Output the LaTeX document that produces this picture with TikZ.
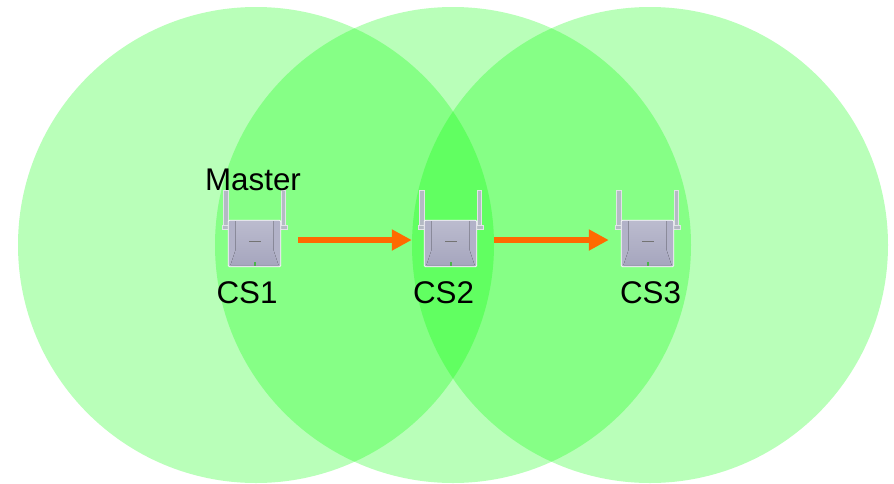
\documentclass[tikz,border=0pt]{standalone}
\usepackage{fontspec}
\setmainfont{Liberation Sans}
\usetikzlibrary{arrows.meta,positioning,calc}

\begin{document}
\begin{tikzpicture}[
  x=0.75pt, y=-0.75pt,
  zone/.style={circle, fill=green!100!black, fill opacity=0.275, minimum size=357pt, inner sep=0pt},
  base/.style={rectangle, rounded corners=1pt, draw=white, line width=0.6pt, fill=basegrey, minimum width=39.5pt, minimum height=35pt, inner sep=0pt},
  panel/.style={top color=basetop, bottom color=baselow},
  aerial/.style={draw=white!60!aerialgrey, line width=0.3pt, fill=aerialgrey},
  label/.style={font=\fontsize{23.5}{27}\selectfont, text=black, inner sep=0pt},
  arrow/.style={-{Triangle[length=15pt,width=15pt]}, line width=5pt, draw=orange1}
]
\definecolor{orange1}{HTML}{FF6A00}
\definecolor{basegrey}{HTML}{B2B2C8}
\definecolor{basetop}{HTML}{BBBBCE}
\definecolor{baselow}{HTML}{A6A6BE}
\definecolor{aerialgrey}{HTML}{B4BAC4}
\useasboundingbox[fill=white] (0,0) rectangle (894,483);

% coverage areas
\node[zone] (zone1) at (256,245) {};
\node[zone] (zone2) at (453,245) {};
\node[zone] (zone3) at (650,245) {};

% base stations
\foreach \name/\px in {cs1/254.5, cs2/450.5, cs3/647.5} {
  \filldraw[aerial] (\px-31,190) rectangle (\px-26.5,226);
  \filldraw[aerial] (\px+26.5,190) rectangle (\px+31,226);
  \filldraw[aerial] (\px-32.5,225) rectangle (\px-26,229);
  \filldraw[aerial] (\px+26,225) rectangle (\px+32.5,229);
  \node[base] (\name) at (\px,243.5) {};
  \fill[panel] (\px-19,221) -- (\px+19,221) -- (\px+19,250) -- (\px+24,265) -- (\px-24,265) -- (\px-19,250) -- cycle;
  \fill[black!55] (\px-6,240.5) rectangle (\px+6,241.5);
  \fill[green!40!gray] (\px-1,262) rectangle (\px+1,266);
}

% labels
\node[label] (master) at (253,180) {Master};
\node[label] (label1) at (247,293) {CS1};
\node[label] (label2) at (443.5,293) {CS2};
\node[label] (label3) at (650.5,293) {CS3};

% links
\draw[arrow] ($(cs1.east)+(17,-3.5)$) -- ($(cs2.west)+(-12,-3.5)$);
\draw[arrow] ($(cs2.east)+(17,-3.5)$) -- ($(cs3.west)+(-12,-3.5)$);

\end{tikzpicture}
\end{document}
